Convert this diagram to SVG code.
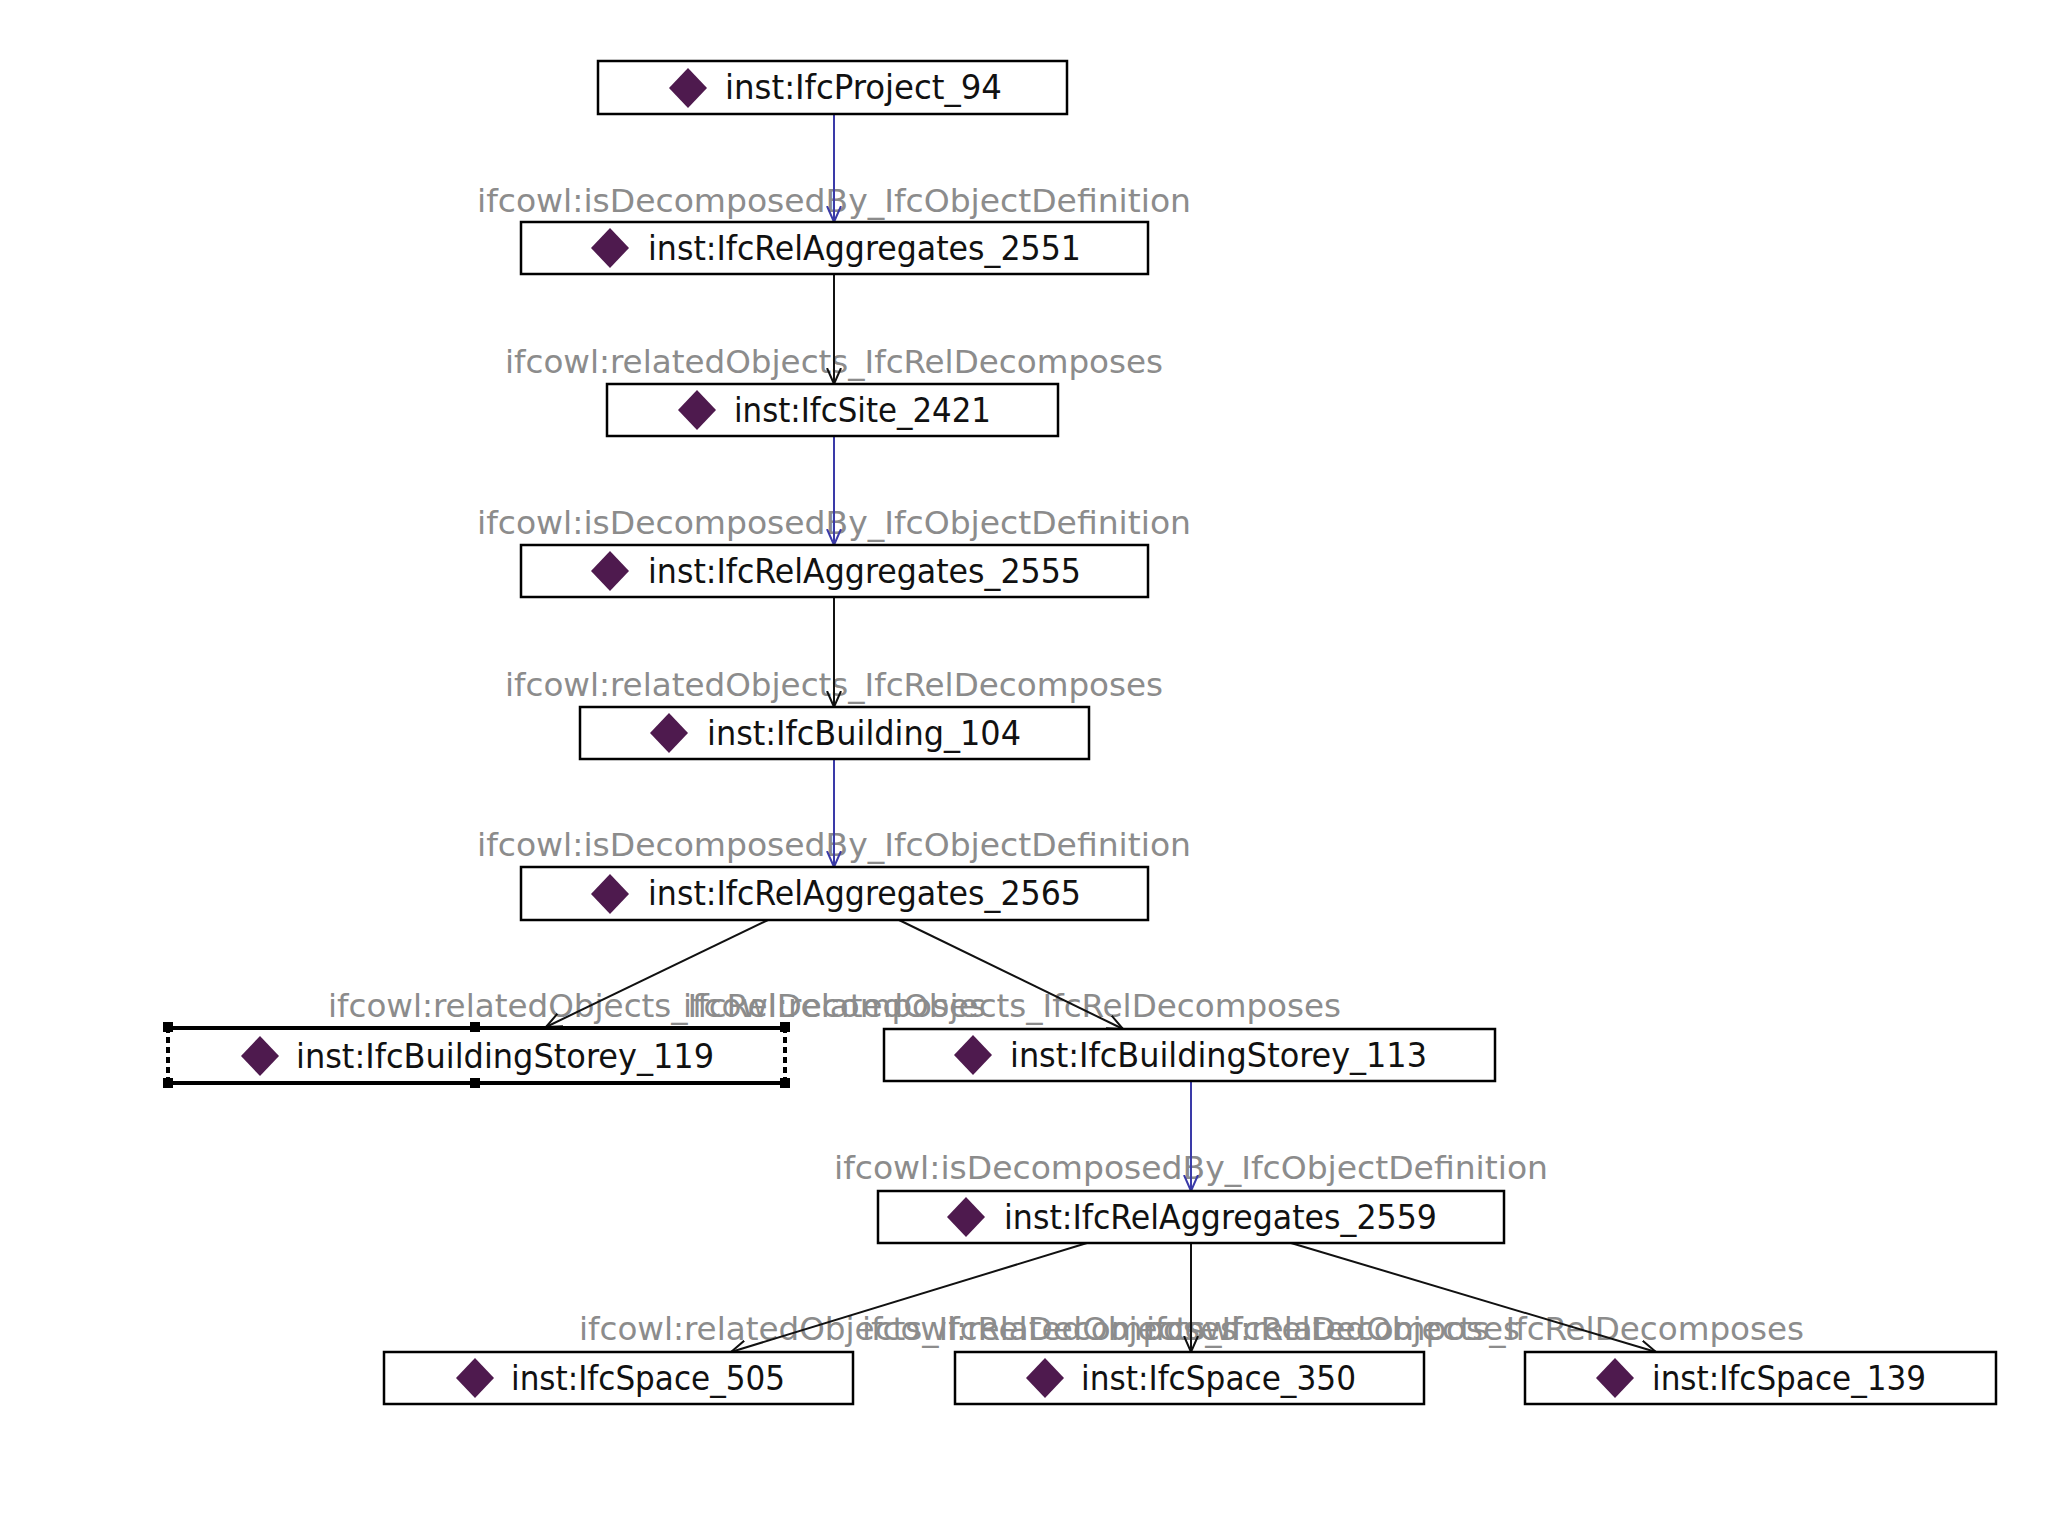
<svg xmlns="http://www.w3.org/2000/svg" width="2048" height="1536" viewBox="0 0 2048 1536">
<style>
.box{fill:#fff;stroke:#000;stroke-width:2.5}
.dia{fill:#4e1a4e}
.nt{font-family:"DejaVu Sans Condensed","DejaVu Sans",sans-serif;font-size:33px;fill:#111}
.lb{font-family:"DejaVu Sans Condensed","DejaVu Sans",sans-serif;font-size:32px;fill:#8c8c8c}
.eb{stroke:#3a3aa8;stroke-width:2;fill:none;marker-end:url(#arrB)}
.ek{stroke:#111;stroke-width:2;fill:none;marker-end:url(#arrK)}
.h{fill:#000}
</style>
<defs>
<marker id="arrB" markerWidth="18" markerHeight="16" refX="16" refY="8" orient="auto" markerUnits="userSpaceOnUse"><path d="M0,1 L16,8 L0,15" fill="none" stroke="#3a3aa8" stroke-width="2"/></marker>
<marker id="arrK" markerWidth="18" markerHeight="16" refX="16" refY="8" orient="auto" markerUnits="userSpaceOnUse"><path d="M0,1 L16,8 L0,15" fill="none" stroke="#111" stroke-width="2"/></marker>
</defs>
<rect width="2048" height="1536" fill="#fff"/>
<g id="labels">
<text class="lb" x="477" y="212" textLength="714" lengthAdjust="spacingAndGlyphs">ifcowl:isDecomposedBy_IfcObjectDefinition</text>
<text class="lb" x="505" y="373" textLength="658" lengthAdjust="spacingAndGlyphs">ifcowl:relatedObjects_IfcRelDecomposes</text>
<text class="lb" x="477" y="534" textLength="714" lengthAdjust="spacingAndGlyphs">ifcowl:isDecomposedBy_IfcObjectDefinition</text>
<text class="lb" x="505" y="696" textLength="658" lengthAdjust="spacingAndGlyphs">ifcowl:relatedObjects_IfcRelDecomposes</text>
<text class="lb" x="477" y="856" textLength="714" lengthAdjust="spacingAndGlyphs">ifcowl:isDecomposedBy_IfcObjectDefinition</text>
<text class="lb" x="328" y="1017" textLength="658" lengthAdjust="spacingAndGlyphs">ifcowl:relatedObjects_IfcRelDecomposes</text>
<text class="lb" x="683" y="1017" textLength="658" lengthAdjust="spacingAndGlyphs">ifcowl:relatedObjects_IfcRelDecomposes</text>
<text class="lb" x="834" y="1179" textLength="714" lengthAdjust="spacingAndGlyphs">ifcowl:isDecomposedBy_IfcObjectDefinition</text>
<text class="lb" x="579" y="1340" textLength="658" lengthAdjust="spacingAndGlyphs">ifcowl:relatedObjects_IfcRelDecomposes</text>
<text class="lb" x="862" y="1340" textLength="658" lengthAdjust="spacingAndGlyphs">ifcowl:relatedObjects_IfcRelDecomposes</text>
<text class="lb" x="1146" y="1340" textLength="658" lengthAdjust="spacingAndGlyphs">ifcowl:relatedObjects_IfcRelDecomposes</text>
</g>
<g id="connectors">
<line class="eb" x1="834" y1="114" x2="834" y2="222"/>
<line class="ek" x1="834" y1="274" x2="834" y2="384"/>
<line class="eb" x1="834" y1="436" x2="834" y2="545"/>
<line class="ek" x1="834" y1="597" x2="834" y2="707"/>
<line class="eb" x1="834" y1="759" x2="834" y2="867"/>
<line class="ek" x1="768" y1="920" x2="546" y2="1027"/>
<line class="ek" x1="899" y1="920" x2="1123" y2="1029"/>
<line class="eb" x1="1191" y1="1081" x2="1191" y2="1191"/>
<line class="ek" x1="1087" y1="1243" x2="731" y2="1352"/>
<line class="ek" x1="1191" y1="1243" x2="1191" y2="1352"/>
<line class="ek" x1="1291" y1="1243" x2="1656" y2="1352"/>
</g>
<g id="n-project94">
<rect class="box" x="598" y="61" width="469" height="53"/>
<polygon class="dia" points="688,68 707,88 688,108 669,88"/>
<text class="nt" x="725" y="99" textLength="277" lengthAdjust="spacingAndGlyphs">inst:IfcProject_94</text>
</g>
<g id="n-relagg2551">
<rect class="box" x="521" y="222" width="627" height="52"/>
<polygon class="dia" points="610,228 629,248 610,268 591,248"/>
<text class="nt" x="648" y="260" textLength="433" lengthAdjust="spacingAndGlyphs">inst:IfcRelAggregates_2551</text>
</g>
<g id="n-site2421">
<rect class="box" x="607" y="384" width="451" height="52"/>
<polygon class="dia" points="697,390 716,410 697,430 678,410"/>
<text class="nt" x="734" y="422" textLength="257" lengthAdjust="spacingAndGlyphs">inst:IfcSite_2421</text>
</g>
<g id="n-relagg2555">
<rect class="box" x="521" y="545" width="627" height="52"/>
<polygon class="dia" points="610,551 629,571 610,591 591,571"/>
<text class="nt" x="648" y="583" textLength="433" lengthAdjust="spacingAndGlyphs">inst:IfcRelAggregates_2555</text>
</g>
<g id="n-building104">
<rect class="box" x="580" y="707" width="509" height="52"/>
<polygon class="dia" points="669,713 688,733 669,753 650,733"/>
<text class="nt" x="707" y="745" textLength="314" lengthAdjust="spacingAndGlyphs">inst:IfcBuilding_104</text>
</g>
<g id="n-relagg2565">
<rect class="box" x="521" y="867" width="627" height="53"/>
<polygon class="dia" points="610,874 629,894 610,914 591,894"/>
<text class="nt" x="648" y="905" textLength="433" lengthAdjust="spacingAndGlyphs">inst:IfcRelAggregates_2565</text>
</g>
<g id="n-storey119">
<rect x="168" y="1027" width="617" height="57" fill="#fff"/>
<line x1="168" y1="1028" x2="785" y2="1028" stroke="#000" stroke-width="4"/>
<line x1="168" y1="1083" x2="785" y2="1083" stroke="#000" stroke-width="4"/>
<line x1="168" y1="1027" x2="168" y2="1084" stroke="#000" stroke-width="4" stroke-dasharray="6 4"/>
<line x1="785" y1="1027" x2="785" y2="1084" stroke="#000" stroke-width="4" stroke-dasharray="6 4"/>
<rect class="h" x="163" y="1022" width="10" height="10"/>
<rect class="h" x="470" y="1022" width="10" height="10"/>
<rect class="h" x="780" y="1022" width="10" height="10"/>
<rect class="h" x="163" y="1078" width="10" height="10"/>
<rect class="h" x="470" y="1078" width="10" height="10"/>
<rect class="h" x="780" y="1078" width="10" height="10"/>
<polygon class="dia" points="260,1036 279,1056 260,1076 241,1056"/>
<text class="nt" x="296" y="1068" textLength="418" lengthAdjust="spacingAndGlyphs">inst:IfcBuildingStorey_119</text>
</g>
<g id="n-storey113">
<rect class="box" x="884" y="1029" width="611" height="52"/>
<polygon class="dia" points="973,1035 992,1055 973,1075 954,1055"/>
<text class="nt" x="1010" y="1067" textLength="417" lengthAdjust="spacingAndGlyphs">inst:IfcBuildingStorey_113</text>
</g>
<g id="n-relagg2559">
<rect class="box" x="878" y="1191" width="626" height="52"/>
<polygon class="dia" points="966,1197 985,1217 966,1237 947,1217"/>
<text class="nt" x="1004" y="1229" textLength="433" lengthAdjust="spacingAndGlyphs">inst:IfcRelAggregates_2559</text>
</g>
<g id="n-space505">
<rect class="box" x="384" y="1352" width="469" height="52"/>
<polygon class="dia" points="475,1358 494,1378 475,1398 456,1378"/>
<text class="nt" x="511" y="1390" textLength="274" lengthAdjust="spacingAndGlyphs">inst:IfcSpace_505</text>
</g>
<g id="n-space350">
<rect class="box" x="955" y="1352" width="469" height="52"/>
<polygon class="dia" points="1045,1358 1064,1378 1045,1398 1026,1378"/>
<text class="nt" x="1081" y="1390" textLength="275" lengthAdjust="spacingAndGlyphs">inst:IfcSpace_350</text>
</g>
<g id="n-space139">
<rect class="box" x="1525" y="1352" width="471" height="52"/>
<polygon class="dia" points="1615,1358 1634,1378 1615,1398 1596,1378"/>
<text class="nt" x="1652" y="1390" textLength="274" lengthAdjust="spacingAndGlyphs">inst:IfcSpace_139</text>
</g>
</svg>
